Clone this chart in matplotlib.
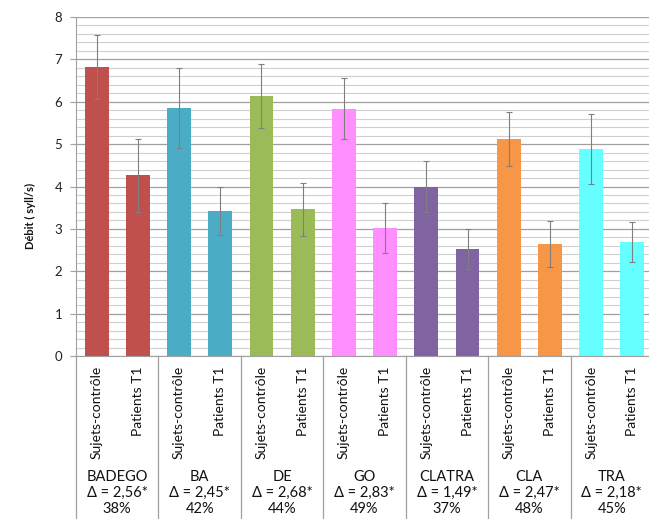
import matplotlib
matplotlib.use("Agg")
import matplotlib.pyplot as plt
from matplotlib.ticker import MultipleLocator
import matplotlib.transforms as mtransforms

plt.rcParams['font.family'] = ['Lato', 'DejaVu Sans']

groups = ["BADEGO", "BA", "DE", "GO", "CLATRA", "CLA", "TRA"]
deltas = ["2,56*", "2,45*", "2,68*", "2,83*", "1,49*", "2,47*", "2,18*"]
percents = ["38%", "42%", "44%", "49%", "37%", "48%", "45%"]
sub_labels = ["Sujets-contrôle", "Patients T1"]
controls = [6.82, 5.86, 6.14, 5.84, 4.00, 5.12, 4.88]
controls_err = [0.76, 0.94, 0.76, 0.71, 0.60, 0.64, 0.83]
patients = [4.26, 3.42, 3.46, 3.01, 2.52, 2.65, 2.69]
patients_err = [0.85, 0.57, 0.62, 0.59, 0.47, 0.54, 0.47]
colors = ["#C0504D", "#4BACC6", "#9BBB59", "#FF8FFF", "#8064A2", "#F79646", "#66FFFF"]

W, H = 649, 519
fig = plt.figure(figsize=(W / 100, H / 100), dpi=100)
ax_left, ax_right = 76, 653
ax_top, ax_bottom = 17, 356
AH = ax_bottom - ax_top
ax = fig.add_axes([ax_left / W, (H - ax_bottom) / H, (ax_right - ax_left) / W, AH / H])

ax.set_xlim(0, len(groups))
ax.set_ylim(0, 8)
ax.yaxis.set_major_locator(MultipleLocator(1))
ax.yaxis.set_minor_locator(MultipleLocator(0.2))
ax.grid(which='major', axis='y', color='#a0a0a0', linewidth=0.9, zorder=0)
ax.grid(which='minor', axis='y', color='#cfcfcf', linewidth=0.8, zorder=0)
ax.set_axisbelow(True)

bw = 0.29
for i in range(len(groups)):
    ax.bar(i + 0.25, controls[i], width=bw, color=colors[i], zorder=2)
    ax.bar(i + 0.75, patients[i], width=bw, color=colors[i], zorder=2)
    ax.errorbar([i + 0.25, i + 0.75], [controls[i], patients[i]],
                yerr=[controls_err[i], patients_err[i]], fmt='none',
                ecolor='#7f7f7f', elinewidth=0.8, capsize=2.5, capthick=0.8, zorder=3)

for s in ['top', 'right']:
    ax.spines[s].set_visible(False)
ax.spines['left'].set_color('#a0a0a0')
ax.spines['bottom'].set_color('#a0a0a0')
ax.tick_params(axis='y', which='major', length=4, color='#a0a0a0', labelsize=9.5, labelcolor='#222222', pad=6)
ax.tick_params(axis='y', which='minor', length=0)
ax.set_xticks([])

trans = mtransforms.blended_transform_factory(ax.transData, ax.transAxes)
for i in range(len(groups) + 1):
    ax.plot([i, i], [0, -0.6], transform=trans, color='#a0a0a0', linewidth=0.9, clip_on=False)

for i in range(len(groups)):
    for j, lab in enumerate(sub_labels):
        ax.text(i + 0.25 + 0.5 * j, -10 / AH, lab, transform=trans,
                rotation=90, ha='center', va='top', fontsize=10, color='#111111')
    lines = [groups[i], f"\u0394 = {deltas[i]}", percents[i]]
    for k, (txt, ypix) in enumerate(zip(lines, [477, 493, 509])):
        ax.text(i + 0.5, -(ypix - ax_bottom) / AH, txt, transform=trans,
                ha='center', va='center', fontsize=10.5, color='#111111')

fig.text(30 / W, 1 - 216 / H, "Débit ( syll/s)", rotation=90, ha='center', va='center',
         fontsize=8, fontweight='bold', color='#111111')

fig.savefig("out.png", dpi=100)
